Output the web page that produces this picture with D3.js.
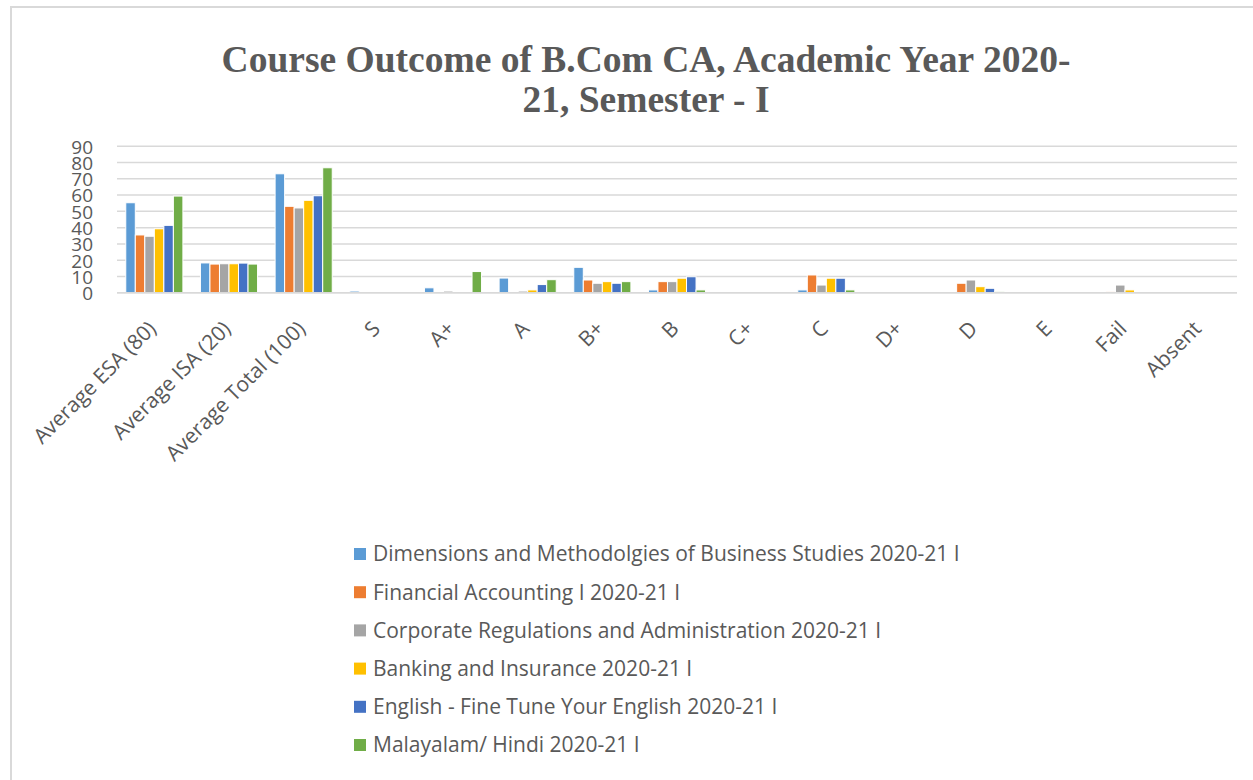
<!DOCTYPE html>
<html>
<head>
<meta charset="utf-8">
<script src="https://cdn.jsdelivr.net/npm/d3@7"></script>
<style>
  html, body { margin: 0; padding: 0; background: #fff; }
  svg { display: block; }
</style>
</head>
<body>
<svg id="chart" width="1253" height="780"></svg>
<script>
// Grade / score categories along the x axis
const categories = ["Average ESA (80)", "Average ISA (20)", "Average Total (100)", "S", "A+", "A", "B+", "B", "C+", "C", "D+", "D", "E", "Fail", "Absent"];

// Course names (legend order)
const seriesNames = [
  "Dimensions and Methodolgies of Business Studies 2020-21 I",
  "Financial Accounting I 2020-21 I",
  "Corporate Regulations and Administration 2020-21 I",
  "Banking and Insurance 2020-21 I",
  "English - Fine Tune Your English 2020-21 I",
  "Malayalam/ Hindi 2020-21 I"
];

// One value per category for each course
const dimensionsValues = [55.3, 18.3, 73.1, 1, 3, 9, 15.6, 1.7, 0, 1.7, 0, 0, 0, 0, 0];
const financialValues  = [35.5, 17.6, 53.1, 0, 0, 0, 7.8, 6.8, 0, 10.9, 0, 5.8, 0, 0.5, 0];
const corporateValues  = [34.7, 17.8, 52.1, 0, 1, 1, 5.8, 6.8, 0, 4.7, 0, 7.8, 0, 4.7, 0];
const bankingValues    = [39.3, 17.8, 56.8, 0, 0, 1.7, 6.8, 8.9, 0, 8.9, 0, 3.7, 0, 1.7, 0];
const englishValues    = [41.4, 18.2, 59.6, 0, 0, 5, 5.8, 9.8, 0, 8.9, 0, 2.7, 0, 0, 0];
const malayalamValues  = [59.4, 17.6, 76.8, 0, 13, 8, 6.8, 1.7, 0, 1.7, 0, 0.6, 0, 0, 0];

const seriesValues = [dimensionsValues, financialValues, corporateValues, bankingValues, englishValues, malayalamValues];
const colors = ["#5B9BD5", "#ED7D31", "#A5A5A5", "#FFC000", "#4472C4", "#70AD47"];

const yTicks = [0, 10, 20, 30, 40, 50, 60, 70, 80, 90];
const titleLines = ["Course Outcome of B.Com CA, Academic Year 2020-", "21, Semester - I"];

const svg = d3.select("#chart");
const textColor = "#595959";
const gridColor = "#D9D9D9";
const sans = "'Open Sans', sans-serif";

// chart frame
svg.append("path")
  .attr("d", "M11,780 V7 H1253")
  .attr("fill", "none")
  .attr("stroke", gridColor)
  .attr("stroke-width", 2);

// title
svg.append("g").selectAll("text")
  .data(titleLines)
  .join("text")
  .attr("x", 646)
  .attr("y", (d, i) => 72 + i * 40)
  .attr("text-anchor", "middle")
  .attr("font-family", "'Liberation Serif', 'Times New Roman', serif")
  .attr("font-weight", "bold")
  .attr("font-size", 37.5)
  .attr("fill", textColor)
  .text(d => d);

const plot = { left: 117, right: 1237, top: 146.3, bottom: 292.7 };

const x = d3.scaleBand()
  .domain(categories)
  .range([plot.left, plot.right])
  .paddingInner(0.235)
  .paddingOuter(0.1175);

const x1 = d3.scaleBand()
  .domain(d3.range(seriesNames.length))
  .range([0, x.bandwidth()]);

const y = d3.scaleLinear()
  .domain([0, 90])
  .range([plot.bottom, plot.top]);

// gridlines
svg.append("g")
  .selectAll("line")
  .data(yTicks)
  .join("line")
  .attr("x1", plot.left)
  .attr("x2", plot.right)
  .attr("y1", d => y(d))
  .attr("y2", d => y(d))
  .attr("stroke", gridColor)
  .attr("stroke-width", 1.5);

// y axis labels
const yAxis = d3.axisLeft(y).tickValues(yTicks).tickSize(0).tickPadding(0);
const yg = svg.append("g")
  .attr("transform", `translate(${93},0)`)
  .call(yAxis);
yg.select(".domain").remove();
yg.selectAll("text")
  .attr("font-family", sans)
  .attr("font-size", 19)
  .attr("fill", textColor)
  .attr("dy", "0.36em");

// bars
const groups = svg.append("g")
  .selectAll("g")
  .data(seriesValues)
  .join("g")
  .attr("fill", (d, i) => colors[i]);

groups.each(function (vals, si) {
  d3.select(this).selectAll("rect")
    .data(vals.map((v, ci) => ({ v, c: categories[ci] })))
    .join("rect")
    .attr("x", d => x(d.c) + x1(si))
    .attr("width", x1.bandwidth())
    .attr("y", d => y(d.v))
    .attr("height", d => y(0) - y(d.v))
    .attr("stroke", "#fff")
    .attr("stroke-width", 1);
});

// x axis baseline
svg.append("line")
  .attr("x1", plot.left).attr("x2", plot.right)
  .attr("y1", plot.bottom).attr("y2", plot.bottom)
  .attr("stroke", gridColor)
  .attr("stroke-width", 1.5);

// x axis labels, rotated
svg.append("g")
  .selectAll("text")
  .data(categories)
  .join("text")
  .attr("transform", d => `translate(${x(d) + x.bandwidth() / 2 + 3},${330}) rotate(-45)`)
  .attr("text-anchor", "end")
  .attr("font-family", sans)
  .attr("font-size", 21)
  .attr("fill", textColor)
  .text(d => d);

// legend
const legend = svg.append("g")
  .selectAll("g")
  .data(seriesNames)
  .join("g")
  .attr("transform", (d, i) => `translate(354,${554 + i * 38.2})`);

legend.append("rect")
  .attr("x", 0).attr("y", -6)
  .attr("width", 12).attr("height", 12)
  .attr("fill", (d, i) => colors[i]);

legend.append("text")
  .attr("x", 19)
  .attr("y", 0)
  .attr("dy", "0.35em")
  .attr("font-family", sans)
  .attr("font-size", 21)
  .attr("fill", textColor)
  .text(d => d);
</script>
</body>
</html>
